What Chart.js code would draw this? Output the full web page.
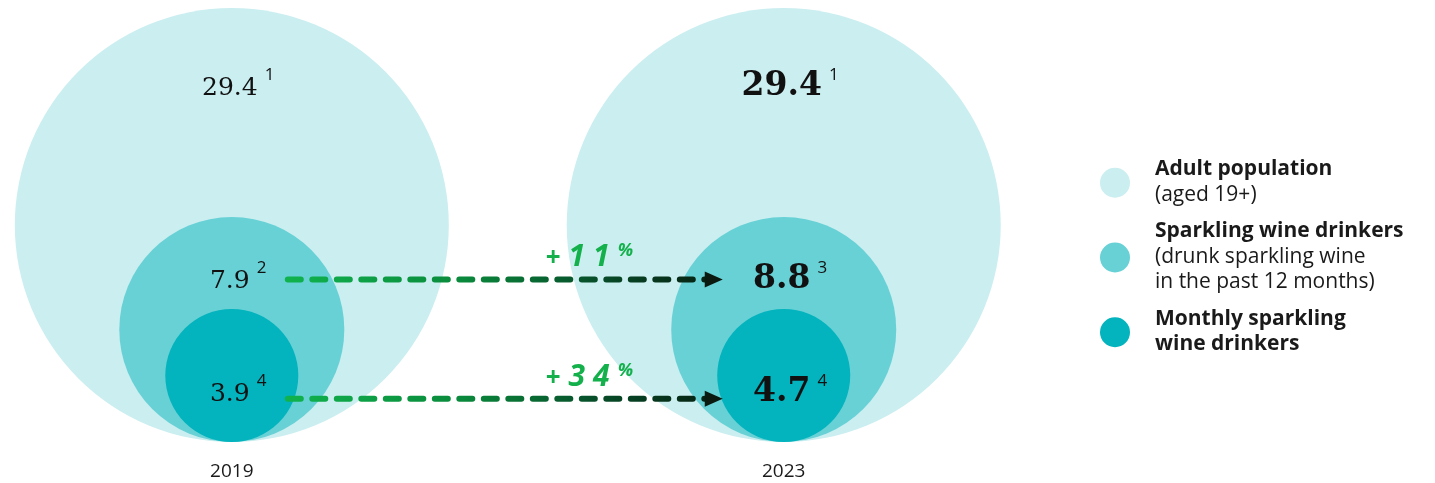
<!DOCTYPE html>
<html>
<head>
<meta charset="utf-8">
<script src="https://cdn.jsdelivr.net/npm/chart.js@4.4.1/dist/chart.umd.min.js"></script>
<style>
  html, body { margin: 0; padding: 0; background: #ffffff; }
  #wrap { position: relative; width: 1435px; height: 483px; }
</style>
</head>
<body>
<div id="wrap"><canvas id="myChart"></canvas></div>
<script>
// Sparkling wine drinkers (millions)
const years = [2019, 2023];
const adultPopulation = [29.4, 29.4];
const sparklingDrinkers = [7.9, 8.8];
const monthlyDrinkers = [3.9, 4.7];

// footnote numbers shown next to each value
const adultNotes = [1, 1];
const sparklingNotes = [2, 3];
const monthlyNotes = [4, 4];

// change between the two years, as printed
const changeLabels = ['+11%', '+34%'];

const legendTitles = [['Adult population'], ['Sparkling wine drinkers'], ['Monthly sparkling', 'wine drinkers']];
const legendNotes = [['(aged 19+)'], ['(drunk sparkling wine', 'in the past 12 months)'], []];

// style per circle tier (sizes are fixed per tier in the original)
const tiers = [
    { values: adultPopulation, notes: adultNotes, color: '#cbeef0', radius: 217, labelDy: -0.6 },
    { values: sparklingDrinkers, notes: sparklingNotes, color: '#67d1d6', radius: 112.5, labelDy: -0.37, arrowDy: -0.445, change: 0 },
    { values: monthlyDrinkers, notes: monthlyNotes, color: '#03b3bd', radius: 66.5, labelDy: 0.39, arrowDy: 0.35, change: 1 }
];

const valueFonts = ['normal 25px "DejaVu Serif"', 'bold 33px "DejaVu Serif"'];
const textColor = '#1a1a1a';
const changeColor = '#13b04b';

// sit every circle on the baseline instead of centring it there
const sitOnBaseline = {
    id: 'sitOnBaseline',
    afterDatasetsUpdate(chart) {
        const base = chart.scales.y.getPixelForValue(0);
        chart.getSortedVisibleDatasetMetas().forEach(meta => {
            meta.data.forEach(el => {
                el.y = base - el.options.radius;
            });
        });
    }
};

function drawArrow(ctx, x0, x1, y) {
    const headLen = 18, headHalf = 8;
    const grad = ctx.createLinearGradient(x0, 0, x1, 0);
    grad.addColorStop(0, '#10b34e');
    grad.addColorStop(0.4, '#0a8a3c');
    grad.addColorStop(0.7, '#07502a');
    grad.addColorStop(1, '#061c10');
    ctx.save();
    ctx.strokeStyle = grad;
    ctx.lineWidth = 6;
    ctx.lineCap = 'round';
    ctx.setLineDash([13, 11.5]);
    ctx.beginPath();
    ctx.moveTo(x0 + 3, y);
    ctx.lineTo(x1 - headLen, y);
    ctx.stroke();
    ctx.setLineDash([]);
    ctx.fillStyle = '#0a1a10';
    ctx.beginPath();
    ctx.moveTo(x1, y);
    ctx.lineTo(x1 - headLen, y - headHalf);
    ctx.lineTo(x1 - headLen, y + headHalf);
    ctx.closePath();
    ctx.fill();
    ctx.restore();
}

function drawChange(ctx, text, x, y) {
    ctx.save();
    ctx.fillStyle = changeColor;
    ctx.textAlign = 'left';
    ctx.textBaseline = 'alphabetic';
    for (const ch of text) {
        let font = 'italic bold 30px "Open Sans"', dy = 0;
        if (ch === '+') font = 'bold 26px "Open Sans"';
        if (ch === '%') { font = 'italic bold 18px "Open Sans"'; dy = -10; }
        ctx.font = font;
        ctx.fillText(ch, x, y + dy);
        x += ctx.measureText(ch).width + 8;
    }
    ctx.restore();
}

const circleLabels = {
    id: 'circleLabels',
    afterDatasetsDraw(chart) {
        const ctx = chart.ctx;
        tiers.forEach((tier, i) => {
            const pts = chart.getDatasetMeta(i).data;
            pts.forEach((el, j) => {
                const r = el.options.radius;
                const baseY = el.y + tier.labelDy * r;
                const cx = el.x - 2;
                ctx.save();
                ctx.fillStyle = '#111111';
                ctx.textBaseline = 'alphabetic';
                ctx.textAlign = 'center';
                ctx.font = valueFonts[j];
                const txt = tier.values[j].toFixed(1);
                const w = ctx.measureText(txt).width;
                ctx.fillText(txt, cx, baseY);
                ctx.textAlign = 'left';
                ctx.font = 'normal 17px "Open Sans"';
                ctx.fillText(String(tier.notes[j]), cx + w / 2 + 7, baseY - 15);
                ctx.restore();
            });
            if (tier.arrowDy !== undefined) {
                const a = pts[0], b = pts[1];
                const y = a.y + tier.arrowDy * a.options.radius;
                const x1 = b.x - 61;
                drawArrow(ctx, a.x + 53, x1, y);
                drawChange(ctx, changeLabels[tier.change], x1 - 177, y - 13);
            }
        });
    }
};

const sideLegend = {
    id: 'sideLegend',
    afterDraw(chart) {
        const ctx = chart.ctx;
        const dotX = 1115, textX = 1155, lineH = 25.5, gap = 11;
        let y = 175;
        ctx.save();
        ctx.textAlign = 'left';
        ctx.textBaseline = 'alphabetic';
        tiers.forEach((tier, i) => {
            const lines = legendTitles[i].map(t => [t, 'bold']).concat(legendNotes[i].map(t => [t, 'normal']));
            const top = y - 15;
            const bottom = y + (lines.length - 1) * lineH + 5;
            ctx.fillStyle = tier.color;
            ctx.beginPath();
            ctx.arc(dotX, (top + bottom) / 2, 15, 0, Math.PI * 2);
            ctx.fill();
            ctx.fillStyle = textColor;
            lines.forEach(([t, weight], k) => {
                ctx.font = weight + ' 21px "Open Sans"';
                ctx.fillText(t, textX, y + k * lineH);
            });
            y += lines.length * lineH + gap;
        });
        ctx.restore();
    }
};

const ctx = document.getElementById('myChart').getContext('2d');
const myChart = new Chart(ctx, {
    type: 'bubble',
    data: {
        datasets: tiers.map((tier, i) => ({
            label: legendTitles[i].join(' '),
            data: years.map(yr => ({ x: yr, y: 0 })),
            backgroundColor: tier.color,
            hoverBackgroundColor: tier.color,
            borderWidth: 0,
            hoverBorderWidth: 0,
            radius: tier.radius,
            hoverRadius: 0,
            order: tiers.length - i,
            clip: false
        }))
    },
    options: {
        responsive: true,
        maintainAspectRatio: false,
        animation: false,
        events: [],
        layout: { autoPadding: false, padding: 0 },
        plugins: {
            legend: { display: false },
            tooltip: { enabled: false }
        },
        scales: {
            x: {
                type: 'linear',
                min: 2017.32,
                max: 2027.72,
                grid: { display: false, drawTicks: false },
                border: { display: false },
                afterBuildTicks: axis => { axis.ticks = years.map(v => ({ value: v })); },
                afterFit: axis => { axis.height = 41; },
                ticks: {
                    padding: 18,
                    color: textColor,
                    font: { family: 'Open Sans', size: 19 },
                    callback: v => String(v)
                }
            },
            y: {
                display: false,
                min: 0,
                max: 100
            }
        }
    },
    plugins: [sitOnBaseline, circleLabels, sideLegend]
});
</script>
</body>
</html>
